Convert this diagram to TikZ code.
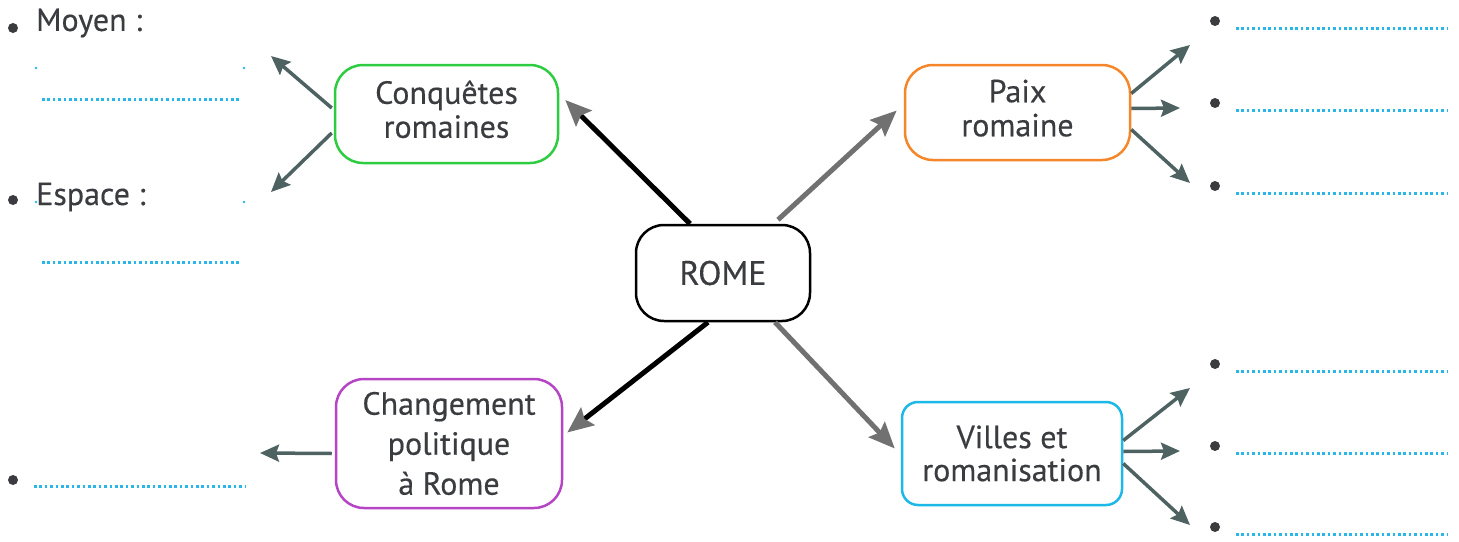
\documentclass[tikz,border=0pt]{standalone}
\usepackage{fontspec}
\setmainfont{PT Sans}
\newfontfamily\lblfont{PT Sans}[FakeBold=0.35]
\usetikzlibrary{arrows.meta,calc}
\definecolor{txt}{HTML}{3A3C40}
\definecolor{cgreen}{HTML}{2ECC40}
\definecolor{corange}{HTML}{F5862A}
\definecolor{cpurple}{HTML}{B545C4}
\definecolor{ccyan}{HTML}{1CB8E8}
\definecolor{slate}{HTML}{4E6262}
\definecolor{agray}{HTML}{717171}
\definecolor{dotc}{HTML}{29B6E8}
\newcommand{\twolines}[3]{\raisebox{#1}{\begin{tabular}{@{}c@{}}#2\\#3\end{tabular}}}
\tikzset{
  box/.style={draw, line width=2.5pt, rounded corners=28pt, align=center, text=txt,
    font=\lblfont\fontsize{32}{34}\selectfont, inner sep=0pt},
  mainarrow/.style={line width=5pt, -{Stealth[length=26pt,width=22pt,color=agray,inset=4pt]}},
  subarrow/.style={line width=3.5pt, draw=slate, -{Stealth[length=19pt,width=17pt,inset=3pt]}},
  bullet/.style={circle, fill=txt, minimum size=10pt, inner sep=0pt},
  dotline/.style={draw=dotc, line width=3pt, dash pattern=on 2.5pt off 2.9pt},
  label/.style={anchor=west, text=txt, font=\lblfont\fontsize{32}{34}\selectfont, inner sep=0pt}
}
\begin{document}
\begin{tikzpicture}[x=1pt,y=-1pt]
\useasboundingbox (0,0) rectangle (1459,541);
% main nodes
\node[box, draw=black, minimum width=174pt, minimum height=96pt, font=\lblfont\fontsize{34}{36}\selectfont] (rome) at (723,273) {ROME};
\node[box, draw=cgreen, minimum width=223pt, minimum height=98pt] (conq) at (446.5,114) {\twolines{5pt}{Conquêtes}{romaines}};
\node[box, draw=corange, minimum width=225pt, minimum height=95pt] (paix) at (1017.5,112.5) {\twolines{3pt}{Paix}{romaine}};
\node[box, draw=cpurple, minimum width=226pt, minimum height=129pt, font=\lblfont\fontsize{32}{40}\selectfont] (chg) at (449,443.5) {Changement\\politique\\à Rome};
\node[box, draw=ccyan, rounded corners=16pt, minimum width=220pt, minimum height=103pt, font=\lblfont\fontsize{32}{33}\selectfont] (villes) at (1012,453.5) {Villes et\\romanisation};

% main arrows
\draw[mainarrow, draw=black] ($(rome.north)+(-33,0)$) -- ($(conq.east)+(6,-14)$);
\draw[mainarrow, draw=agray] ($(rome.north)+(55,-4)$) -- ($(paix.west)+(-7,-2)$);
\draw[mainarrow, draw=black] ($(rome.south)+(-15,0)$) -- ($(chg.east)+(4,-11)$);
\draw[mainarrow, draw=agray] ($(rome.south)+(52,0)$) -- ($(villes.west)+(-6,-5)$);

% free ends
\coordinate (c1) at (271,56);
\coordinate (c2) at (271,192);
\coordinate (p1) at (1190,45);
\coordinate (p2) at (1180,108);
\coordinate (p3) at (1190,183);
\coordinate (v1) at (1190,388);
\coordinate (v2) at (1180,451);
\coordinate (v3) at (1190,525);
\coordinate (h1) at (260,453);

% sub arrows
\draw[subarrow] ($(conq.west)+(-2,-6)$) -- (c1);
\draw[subarrow] ($(conq.west)+(-2,19)$) -- (c2);
\draw[subarrow] ($(paix.east)+(0,-19)$) -- (p1);
\draw[subarrow] ($(paix.east)+(0,-4)$) -- (p2);
\draw[subarrow] ($(paix.east)+(0,17)$) -- (p3);
\draw[subarrow] ($(villes.east)+(0,-13)$) -- (v1);
\draw[subarrow] ($(villes.east)+(0,-2)$) -- (v2);
\draw[subarrow] ($(villes.east)+(0,10)$) -- (v3);
\draw[subarrow] ($(chg.west)+(-3,10)$) -- (h1);

% left bullets and labels
\node[bullet] (lb1) at (13,28) {};
\node[label] (moyen) at (36,23) {Moyen :};
\node[bullet] (lb2) at (13,200) {};
\node[label] (espace) at (36,197) {Espace :};
\node[bullet] (lb3) at (13,480) {};

\coordinate (m1a) at (42,99);  \coordinate (m1b) at (240,99);
\coordinate (m2a) at (42,262); \coordinate (m2b) at (240,262);
\coordinate (m3a) at (34,486); \coordinate (m3b) at (245,486);
\draw[dotline] (m1a) -- (m1b);
\draw[dotline] (m2a) -- (m2b);
\draw[dotline] (m3a) -- (m3b);
\fill[dotc] (36,68) circle (1.4pt) (244,68) circle (1.4pt) (36,202) circle (1.4pt) (244,202) circle (1.4pt);

% right bullets and dotted lines
\foreach \y [count=\i] in {21,103,186,364,446,527}{
  \node[bullet] (rb\i) at (1215,\y) {};
  \coordinate (ra\i) at (1236,\y+7);
  \coordinate (rz\i) at (1448,\y+7);
  \draw[dotline] (ra\i) -- (rz\i);
}
\end{tikzpicture}
\end{document}
